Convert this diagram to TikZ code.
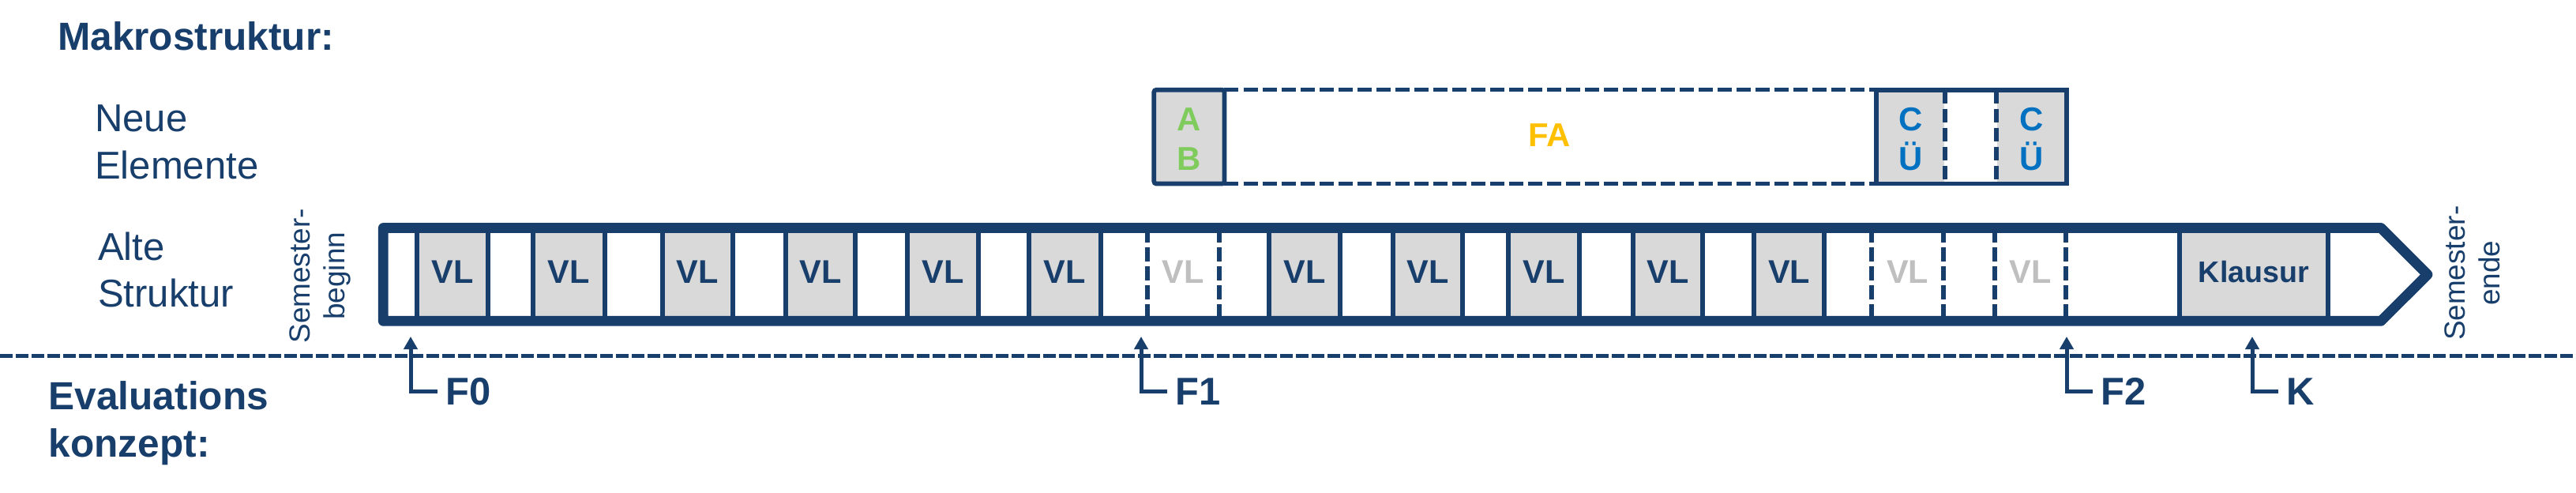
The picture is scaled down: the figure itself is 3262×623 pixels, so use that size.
\documentclass[tikz,border=0pt]{standalone}
\usepackage{fontspec}
\setmainfont{Liberation Sans}
\usetikzlibrary{arrows.meta}
\definecolor{dblue}{HTML}{183E6B}
\definecolor{cellgray}{HTML}{D9D9D9}
\definecolor{ghostgray}{HTML}{BFBFBF}
\definecolor{abgreen}{HTML}{7FCB5C}
\definecolor{faorange}{HTML}{FFC000}
\definecolor{cublue}{HTML}{0070C0}
\newcommand\myfs[2]{\fontsize{#1}{#2}\selectfont}
\begin{document}
\begin{tikzpicture}[x=0.01cm, y=-0.01cm,
  titletext/.style={anchor=base west, inner sep=0pt, text=dblue, font=\myfs{14.1}{17}\bfseries},
  rowtext/.style={anchor=base west, inner sep=0pt, text=dblue, font=\myfs{13.95}{17}},
  semtext/.style={rotate=90, anchor=base, inner sep=0pt, text=dblue, font=\myfs{10.5}{12.5}},
  vlcell/.style={rectangle, inner sep=0pt, minimum height=1.15cm, fill=cellgray, draw=dblue, line width=1.62pt, text=dblue, font=\myfs{11.8}{14}\bfseries, text depth=2pt},
  ghostcell/.style={rectangle, inner sep=0pt, minimum height=1.15cm, text=ghostgray, font=\myfs{11.8}{14}\bfseries, text depth=2pt},
  examcell/.style={vlcell, font=\myfs{10.7}{13}\bfseries},
  celldash/.style={draw=dblue, line width=1.62pt, dash pattern=on 4.92pt off 1.91pt},
  barframe/.style={draw=dblue, line width=3.64pt, line join=round},
  topcell/.style={rectangle, inner sep=0pt, minimum height=1.172cm, fill=cellgray},
  topframe/.style={draw=dblue, line width=1.62pt},
  fadash/.style={draw=dblue, line width=1.42pt, dash pattern=on 5.12pt off 1.71pt},
  toptext/.style={anchor=base, inner sep=0pt, font=\myfs{11.9}{14}\bfseries},
  sepline/.style={draw=dblue, line width=1.25pt, dash pattern=on 4.55pt off 1.14pt},
  evarrow/.style={draw=dblue, line width=1.42pt, -{Triangle[length=4.55pt, width=4.84pt]}},
  evtext/.style={anchor=base west, inner sep=0pt, text=dblue, font=\myfs{13.9}{17}\bfseries},
]
\fill[white] (0,0) rectangle (3262,623);
\useasboundingbox (0,0) rectangle (3262,623);

% left labels
\node[titletext] (makro) at (72.5,63.6) {Makrostruktur:};
\node[rowtext] (neue1) at (119.5,166) {Neue};
\node[rowtext] (neue2) at (119.5,226.5) {Elemente};
\node[rowtext] (alte1) at (123.5,329) {Alte};
\node[rowtext] (alte2) at (123.5,388.6) {Struktur};
\node[titletext] (eval1) at (61,518.5) {Evaluations};
\node[titletext] (eval2) at (61,578) {konzept:};

% semester begin / end
\node[semtext] (sb1) at (392,349.3) {Semester-};
\node[semtext] (sb2) at (436,349.3) {beginn};
\node[semtext] (se1) at (3121,345.8) {Semester-};
\node[semtext] (se2) at (3165,345.8) {ende};

% separator
\coordinate (sepL) at (0,450.3);
\coordinate (sepR) at (3262,450.3);
\draw[sepline] (sepL) -- (sepR);

% old structure cells
\foreach \n/\c/\w in {1/573/0.90, 2/720.5/0.91, 3/883.5/0.89, 4/1039/0.88, 5/1194/0.90, 6/1348.5/0.91, 8/1652/0.90, 9/1808/0.88, 10/1955/0.90, 11/2112/0.88, 12/2265.5/0.89}
  \node[vlcell, minimum width=\w cm] (vl\n) at (\c,347.5) {VL};
\foreach \n/\c/\w in {7/1498.5/0.89, 13/2415.5/0.89, 14/2571/0.88}{
  \node[ghostcell, minimum width=\w cm] (vl\n) at (\c,347.5) {VL};
  \draw[celldash] (vl\n.north west) -- (vl\n.south west);
  \draw[celldash] (vl\n.north east) -- (vl\n.south east);
}
\node[examcell, minimum width=1.88cm] (exam) at (2854,347.5) {Klausur};

% frame arrow
\coordinate (fTL) at (485.3,288.5);
\coordinate (fTR) at (3015,288.5);
\coordinate (fTip) at (3074,347.5);
\coordinate (fBR) at (3015,406.3);
\coordinate (fBL) at (485.3,406.3);
\draw[barframe] (fTL) -- (fTR) -- (fTip) -- (fBR) -- (fBL) -- cycle;

% new elements
\node[topcell, minimum width=0.877cm] (ab) at (1505.9,173.1) {};
\draw[topframe, rounded corners=0.8pt] (ab.north west) rectangle (ab.south east);
\node[topcell, minimum width=0.854cm] (cu1) at (2419.3,173.1) {};
\node[topcell, minimum width=0.875cm] (cu2) at (2572.75,173.1) {};
\draw[topframe] (cu1.north west) rectangle (cu2.south east);
\draw[celldash] (cu1.north east) -- (cu1.south east);
\draw[celldash] (cu2.north west) -- (cu2.south west);
\draw[fadash] (ab.north east) -- (cu1.north west);
\draw[fadash] (ab.south east) -- (cu1.south west);
\node[toptext, text=abgreen] (abA) at (1506,165) {A};
\node[toptext, text=abgreen] (abB) at (1506,215) {B};
\node[toptext, text=faorange] (fa) at (1962,185) {FA};
\node[toptext, text=cublue] (cu1C) at (2419.3,165) {C};
\node[toptext, text=cublue] (cu1U) at (2419.3,215) {Ü};
\node[toptext, text=cublue] (cu2C) at (2572.75,165) {C};
\node[toptext, text=cublue] (cu2U) at (2572.75,215) {Ü};

% evaluation points
\node[evtext] (F0) at (563.5,512.5) {F0};
\node[evtext] (F1) at (1488,512.5) {F1};
\node[evtext] (F2) at (2659.5,512.5) {F2};
\node[evtext] (K) at (2894.5,512.5) {K};
\coordinate (F0tip) at (520,426);
\coordinate (F1tip) at (1445,426);
\coordinate (F2tip) at (2617,426);
\coordinate (Ktip) at (2852,426);
\draw[evarrow] ([xshift=-2.8pt]F0.west) -| (F0tip);
\draw[evarrow] ([xshift=-2.8pt]F1.west) -| (F1tip);
\draw[evarrow] ([xshift=-2.8pt]F2.west) -| (F2tip);
\draw[evarrow] ([xshift=-2.8pt]K.west) -| (Ktip);
\end{tikzpicture}
\end{document}
